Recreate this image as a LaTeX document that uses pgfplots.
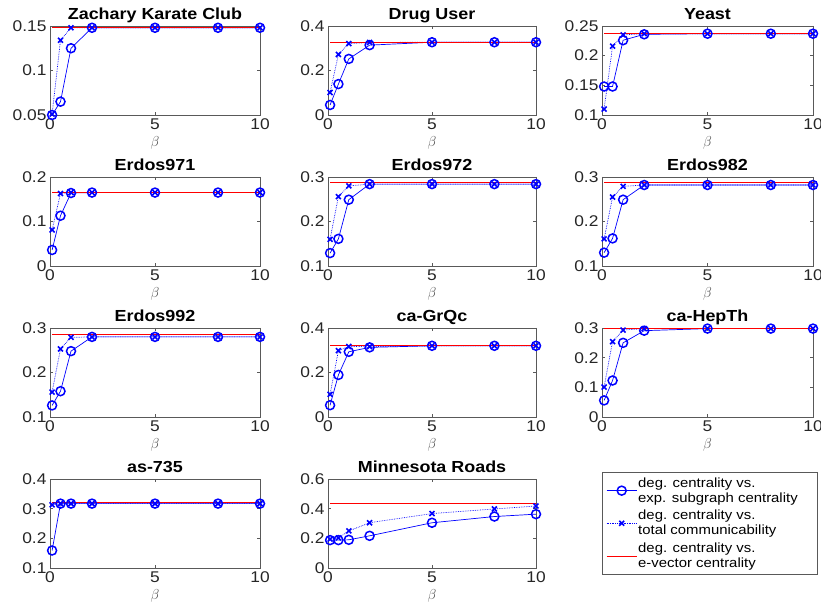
\documentclass[border=0pt]{standalone}
\usepackage{fontspec}
\setmainfont{Liberation Sans}[FakeStretch=1.12, BoldFeatures={FakeStretch=1.12}]
\usepackage{pgfplots}
\pgfplotsset{compat=1.18}
\definecolor{evred}{rgb}{1,0,0}
\pgfplotsset{
  panel/.style={
    width=210pt, height=89pt, scale only axis, anchor=south west,
    xmin=0, xmax=10, xtick={0,5,10}, clip=false,
    tick align=inside, major tick length=3pt,
    axis line style={black!65, line width=0.5pt},
    every tick/.style={black!65, line width=0.5pt},
    tick label style={font=\fontsize{15.5}{18}\selectfont, text=black!85},
    /pgf/number format/assume math mode=true,
    yticklabel style={/pgf/number format/fixed, /pgf/number format/precision=2},
    title style={font=\fontsize{16}{19}\selectfont\bfseries, text depth=0.25em, yshift=-6pt},
    xlabel={$\beta$}, xlabel style={font=\fontsize{15.5}{18}\selectfont, text=black!70},
    legend image code/.code={%
      \path[draw=none, fill=none, use as bounding box] (0pt,-9pt) rectangle (30pt,9pt);
      \draw[mark repeat=2,mark phase=2,##1] plot coordinates {(0pt,0pt) (15pt,0pt) (30pt,0pt)};},
  },
  circ/.style={blue, line width=0.7pt, mark=o, mark size=4.5pt, mark options={solid, line width=1.5pt}},
  crs/.style={blue, densely dotted, line width=0.7pt, mark=x, mark size=3.5pt, mark options={solid, line width=1.6pt}},
  ev/.style={color=evred, line width=0.8pt, no marks},
}
\begin{document}
\begin{tikzpicture}
\useasboundingbox (0,0) rectangle (821pt,608pt);
\clip (0,0) rectangle (821pt,608pt);
% Row 1
\begin{axis}[panel, at={(50pt,493pt)}, width=210pt, ymin=0.05, ymax=0.15, ytick={0.05,0.1,0.15}, title={Zachary Karate Club}]
\addplot[circ] coordinates {(0.1,0.050)(0.5,0.065)(1,0.125)(2,0.148)(5,0.148)(8,0.148)(10,0.148)};
\addplot[crs] coordinates {(0.1,0.051)(0.5,0.134)(1,0.148)(2,0.148)(5,0.148)(8,0.148)(10,0.148)};
\addplot[ev] coordinates {(0.1,0.148)(10,0.148)};
\end{axis}
\begin{axis}[panel, at={(328pt,493pt)}, width=208pt, ymin=0, ymax=0.4, ytick={0,0.2,0.4}, title={Drug User}]
\addplot[circ] coordinates {(0.1,0.045)(0.5,0.139)(1,0.252)(2,0.314)(5,0.327)(8,0.327)(10,0.327)};
\addplot[crs] coordinates {(0.1,0.101)(0.5,0.272)(1,0.321)(2,0.326)(5,0.327)(8,0.327)(10,0.327)};
\addplot[ev] coordinates {(0.1,0.327)(10,0.327)};
\end{axis}
\begin{axis}[panel, at={(602pt,493pt)}, width=211pt, ymin=0.1, ymax=0.25, ytick={0.1,0.15,0.2,0.25}, title={Yeast}]
\addplot[circ] coordinates {(0.1,0.148)(0.5,0.148)(1,0.226)(2,0.236)(5,0.237)(8,0.237)(10,0.237)};
\addplot[crs] coordinates {(0.1,0.110)(0.5,0.216)(1,0.235)(2,0.237)(5,0.237)(8,0.237)(10,0.237)};
\addplot[ev] coordinates {(0.1,0.2375)(10,0.2375)};
\end{axis}
% Row 2
\begin{axis}[panel, at={(50pt,342pt)}, width=210pt, ymin=0, ymax=0.2, ytick={0,0.1,0.2}, title={Erdos971}]
\addplot[circ] coordinates {(0.1,0.036)(0.5,0.113)(1,0.164)(2,0.165)(5,0.165)(8,0.165)(10,0.165)};
\addplot[crs] coordinates {(0.1,0.081)(0.5,0.163)(1,0.165)(2,0.165)(5,0.165)(8,0.165)(10,0.165)};
\addplot[ev] coordinates {(0.1,0.165)(10,0.165)};
\end{axis}
\begin{axis}[panel, at={(328pt,342pt)}, width=208pt, ymin=0.1, ymax=0.3, ytick={0.1,0.2,0.3}, title={Erdos972}]
\addplot[circ] coordinates {(0.1,0.129)(0.5,0.161)(1,0.249)(2,0.284)(5,0.284)(8,0.284)(10,0.284)};
\addplot[crs] coordinates {(0.1,0.160)(0.5,0.256)(1,0.280)(2,0.284)(5,0.284)(8,0.284)(10,0.284)};
\addplot[ev] coordinates {(0.1,0.288)(10,0.288)};
\end{axis}
\begin{axis}[panel, at={(602pt,342pt)}, width=211pt, ymin=0.1, ymax=0.3, ytick={0.1,0.2,0.3}, title={Erdos982}]
\addplot[circ] coordinates {(0.1,0.130)(0.5,0.162)(1,0.249)(2,0.282)(5,0.282)(8,0.282)(10,0.282)};
\addplot[crs] coordinates {(0.1,0.161)(0.5,0.255)(1,0.279)(2,0.282)(5,0.282)(8,0.282)(10,0.282)};
\addplot[ev] coordinates {(0.1,0.287)(10,0.287)};
\end{axis}
% Row 3
\begin{axis}[panel, at={(50pt,191pt)}, width=210pt, ymin=0.1, ymax=0.3, ytick={0.1,0.2,0.3}, title={Erdos992}]
\addplot[circ] coordinates {(0.1,0.126)(0.5,0.158)(1,0.248)(2,0.280)(5,0.280)(8,0.280)(10,0.280)};
\addplot[crs] coordinates {(0.1,0.156)(0.5,0.253)(1,0.279)(2,0.280)(5,0.280)(8,0.280)(10,0.280)};
\addplot[ev] coordinates {(0.1,0.286)(10,0.286)};
\end{axis}
\begin{axis}[panel, at={(328pt,191pt)}, width=208pt, ymin=0, ymax=0.4, ytick={0,0.2,0.4}, title={ca-GrQc}]
\addplot[circ] coordinates {(0.1,0.053)(0.5,0.189)(1,0.293)(2,0.313)(5,0.320)(8,0.320)(10,0.320)};
\addplot[crs] coordinates {(0.1,0.102)(0.5,0.298)(1,0.317)(2,0.316)(5,0.320)(8,0.320)(10,0.320)};
\addplot[ev] coordinates {(0.1,0.320)(10,0.320)};
\end{axis}
\begin{axis}[panel, at={(602pt,191pt)}, width=211pt, ymin=0, ymax=0.3, ytick={0,0.1,0.2,0.3}, title={ca-HepTh}]
\addplot[circ] coordinates {(0.1,0.056)(0.5,0.123)(1,0.250)(2,0.291)(5,0.298)(8,0.298)(10,0.298)};
\addplot[crs] coordinates {(0.1,0.101)(0.5,0.254)(1,0.293)(2,0.298)(5,0.298)(8,0.298)(10,0.298)};
\addplot[ev] coordinates {(0.1,0.299)(10,0.299)};
\end{axis}
% Row 4
\begin{axis}[panel, at={(50pt,40pt)}, width=210pt, ymin=0.1, ymax=0.4, ytick={0.1,0.2,0.3,0.4}, title={as-735}]
\addplot[circ] coordinates {(0.1,0.159)(0.5,0.317)(1,0.317)(2,0.317)(5,0.317)(8,0.317)(10,0.317)};
\addplot[crs] coordinates {(0.1,0.313)(0.5,0.317)(1,0.317)(2,0.317)(5,0.317)(8,0.317)(10,0.317)};
\addplot[ev] coordinates {(0.1,0.322)(10,0.322)};
\end{axis}
\begin{axis}[panel, at={(328pt,40pt)}, width=208pt, ymin=0, ymax=0.6, ytick={0,0.2,0.4,0.6}, title={Minnesota Roads},
  legend style={at={(1.317,1.075)}, anchor=north west, draw=black!65, line width=0.5pt, fill=white,
    font=\fontsize{13.3}{15}\selectfont, row sep=3.5pt, inner xsep=4.5pt, inner ysep=3.5pt,
    nodes={inner sep=1.5pt},
    cells={anchor=west, align=left, font=\fontsize{13.3}{15}\selectfont}}]
\addplot[circ] coordinates {(0.1,0.188)(0.5,0.188)(1,0.190)(2,0.217)(5,0.305)(8,0.347)(10,0.363)};
\addlegendentry{deg. centrality vs.\\exp. subgraph centrality\rule{14pt}{0pt}}
\addplot[crs] coordinates {(0.1,0.195)(0.5,0.203)(1,0.250)(2,0.305)(5,0.367)(8,0.398)(10,0.418)};
\addlegendentry{deg. centrality vs.\\total communicability}
\addplot[ev] coordinates {(0.1,0.436)(10,0.436)};
\addlegendentry{deg. centrality vs.\\e-vector centrality}
\end{axis}
\end{tikzpicture}
\end{document}
